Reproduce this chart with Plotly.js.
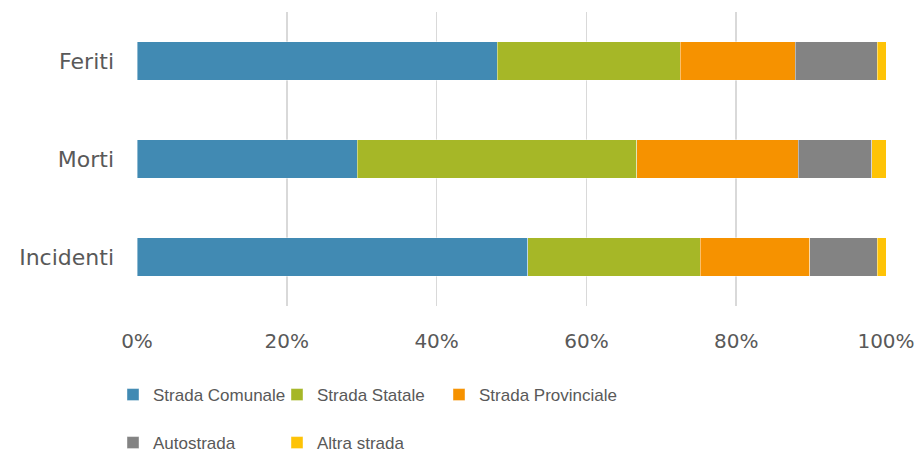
<!DOCTYPE html>
<html>
<head>
<meta charset="utf-8">
<script src="https://cdn.plot.ly/plotly-3.0.1.min.js"></script>
<style>html,body{margin:0;padding:0;background:#fff;}#chart{width:919px;height:454px;}</style>
</head>
<body>
<div id="chart"></div>
<script>
// Categories (bottom to top)
const categories = ['Incidenti', 'Morti', 'Feriti'];
// Percent shares per category (same order as categories)
const stradaComunale    = [52.2, 29.4, 48.1];
const stradaStatale     = [23.0, 37.3, 24.4];
const stradaProvinciale = [14.6, 21.6, 15.4];
const autostrada        = [9.0, 9.8, 10.9];
const altraStrada       = [1.2, 1.9, 1.2];
const seriesNames = ['Strada Comunale', 'Strada Statale', 'Strada Provinciale', 'Autostrada', 'Altra strada'];
const xTickVals = [0, 20, 40, 60, 80, 100];
const xTickText = ['0%', '20%', '40%', '60%', '80%', '100%'];

const colors = ['#418AB3', '#A6B727', '#F69200', '#838383', '#FEC306'];
const values = [stradaComunale, stradaStatale, stradaProvinciale, autostrada, altraStrada];
const legendOf = ['legend', 'legend', 'legend3', 'legend2', 'legend2'];

const traces = values.map((v, i) => ({
  type: 'bar',
  orientation: 'h',
  y: categories,
  x: v,
  name: seriesNames[i],
  legend: legendOf[i],
  marker: {color: colors[i], line: {color: 'rgba(255,255,255,0.55)', width: 0.75}},
  hoverinfo: 'skip'
}));

const fontFam = 'DejaVu Sans, sans-serif';
const legFont = {family: '"Liberation Sans", Arial, sans-serif', size: 17, color: '#595959'};

function mkLegend(px, py, ew) {
  return {
    orientation: 'h', xref: 'container', yref: 'container',
    x: px / 919, y: 1 - py / 454, xanchor: 'left', yanchor: 'top',
    entrywidth: ew, entrywidthmode: 'pixels',
    font: legFont, itemclick: false, itemdoubleclick: false,
    bgcolor: 'rgba(0,0,0,0)', traceorder: 'normal'
  };
}

const layout = {
  width: 919, height: 454,
  margin: {l: 137, r: 33, t: 12, b: 148},
  paper_bgcolor: '#ffffff', plot_bgcolor: '#ffffff',
  barmode: 'stack',
  bargap: 0.605,
  showlegend: true,
  xaxis: {
    range: [0, 100],
    tickvals: xTickVals, ticktext: xTickText,
    showgrid: true, gridcolor: '#d9d9d9', gridwidth: 1.5,
    zeroline: false, showline: false,
    ticks: '', ticklabelstandoff: 21,
    tickfont: {family: fontFam, size: 20, color: '#595959'},
    fixedrange: true
  },
  yaxis: {
    type: 'category',
    showgrid: false, zeroline: false, showline: false,
    ticks: '', ticklabelstandoff: 22,
    tickfont: {family: fontFam, size: 22, color: '#595959'},
    fixedrange: true
  },
  legend: mkLegend(113, 377, 119),
  legend3: mkLegend(439, 377, 200),
  legend2: mkLegend(113, 425, 119)
};

Plotly.newPlot('chart', traces, layout, {displayModeBar: false, staticPlot: true});
</script>
</body>
</html>
